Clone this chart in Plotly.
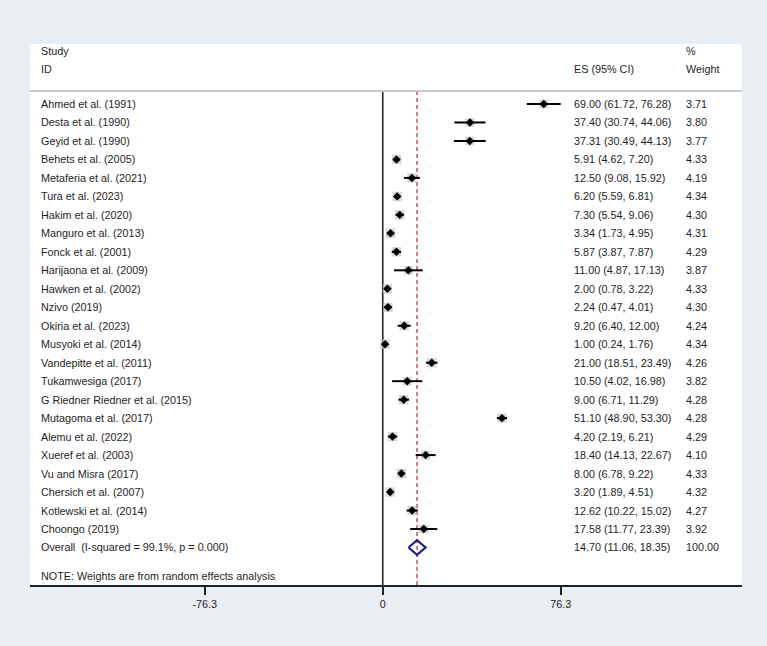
import plotly.graph_objects as go
import math

studies = ["Ahmed et al. (1991)", "Desta et al. (1990)", "Geyid et al. (1990)", "Behets et al. (2005)",
           "Metaferia et al. (2021)", "Tura et al. (2023)", "Hakim et al. (2020)", "Manguro et al. (2013)",
           "Fonck et al. (2001)", "Harijaona et al. (2009)", "Hawken et al. (2002)", "Nzivo (2019)",
           "Okiria et al. (2023)", "Musyoki et al. (2014)", "Vandepitte et al. (2011)", "Tukamwesiga (2017)",
           "G Riedner Riedner et al. (2015)", "Mutagoma et al. (2017)", "Alemu et al. (2022)",
           "Xueref et al. (2003)", "Vu and Misra (2017)", "Chersich et al. (2007)",
           "Kotlewski et al. (2014)", "Choongo (2019)"]
es = [69.00, 37.40, 37.31, 5.91, 12.50, 6.20, 7.30, 3.34, 5.87, 11.00, 2.00, 2.24, 9.20, 1.00,
      21.00, 10.50, 9.00, 51.10, 4.20, 18.40, 8.00, 3.20, 12.62, 17.58]
lo = [61.72, 30.74, 30.49, 4.62, 9.08, 5.59, 5.54, 1.73, 3.87, 4.87, 0.78, 0.47, 6.40, 0.24,
      18.51, 4.02, 6.71, 48.90, 2.19, 14.13, 6.78, 1.89, 10.22, 11.77]
hi = [76.28, 44.06, 44.13, 7.20, 15.92, 6.81, 9.06, 4.95, 7.87, 17.13, 3.22, 4.01, 12.00, 1.76,
      23.49, 16.98, 11.29, 53.30, 6.21, 22.67, 9.22, 4.51, 15.02, 23.39]
weights = [3.71, 3.80, 3.77, 4.33, 4.19, 4.34, 4.30, 4.31, 4.29, 3.87, 4.33, 4.30, 4.24, 4.34,
           4.26, 3.82, 4.28, 4.28, 4.29, 4.10, 4.33, 4.32, 4.27, 3.92]
overall_label = "Overall  (I-squared = 99.1%, p = 0.000)"
overall_es, overall_lo, overall_hi, overall_w = 14.70, 11.06, 18.35, 100.00
tick_vals = [-76.3, 0, 76.3]
tick_text = ["-76.3", "0", "76.3"]
note = "NOTE: Weights are from random effects analysis"

n = len(studies)
rows = list(range(n))
overall_row = n
note_row = n + 1.54
header_line = -0.70

FONT = "Liberation Sans, Arial, Helvetica, sans-serif"
FS = 10.8
TXT = "#1e1e1e"

fig = go.Figure()

# CI lines
cx, cy = [], []
for r, a, b in zip(rows, lo, hi):
    cx += [a, b, None]
    cy += [r, r, None]

# reference lines
fig.add_trace(go.Scatter(x=[0, 0], y=[header_line, 26.03], mode="lines",
                         line=dict(color="#222222", width=1.6), hoverinfo="skip", showlegend=False))
fig.add_trace(go.Scatter(x=[overall_es, overall_es], y=[header_line, 26.03], mode="lines",
                         line=dict(color="#b03a3a", width=1.3, dash="4px,3px"), hoverinfo="skip",
                         showlegend=False))

# weight boxes
fig.add_trace(go.Scatter(x=es, y=rows, mode="markers",
                         marker=dict(symbol="square", size=[4.5 * math.sqrt(w) for w in weights],
                                     color="#c4c4c4", line=dict(width=0)),
                         hoverinfo="skip", showlegend=False))
fig.add_trace(go.Scatter(x=cx, y=cy, mode="lines", line=dict(color="black", width=2),
                         hoverinfo="skip", showlegend=False))
fig.add_trace(go.Scatter(x=es, y=rows, mode="markers",
                         marker=dict(symbol="diamond", size=6.5, color="black", line=dict(width=0)),
                         hoverinfo="skip", showlegend=False))

# overall diamond
h = 0.40
fig.add_trace(go.Scatter(x=[overall_lo, overall_es, overall_hi, overall_es, overall_lo],
                         y=[overall_row, overall_row - h, overall_row, overall_row + h, overall_row],
                         mode="lines", line=dict(color="#1a237e", width=2.2), hoverinfo="skip",
                         showlegend=False))

X_STUDY = 0.0125
X_ES = 0.761
X_W = 0.919

def ann(x, y, t):
    fig.add_annotation(x=x, y=y, xref="paper", yref="y", text=t, showarrow=False,
                       xanchor="left", yanchor="middle", font=dict(family=FONT, size=FS, color=TXT))

ann(X_STUDY, -2.87, "Study")
ann(X_STUDY, -1.89, "ID")
ann(X_ES, -1.89, "ES (95% CI)")
ann(X_W, -2.87, "%")
ann(X_W, -1.89, "Weight")

for r, s, e, a, b, w in zip(rows, studies, es, lo, hi, weights):
    ann(X_STUDY, r, s)
    ann(X_ES, r, f"{e:.2f} ({a:.2f}, {b:.2f})")
    ann(X_W, r, f"{w:.2f}")

ann(X_STUDY, overall_row, overall_label)
ann(X_ES, overall_row, f"{overall_es:.2f} ({overall_lo:.2f}, {overall_hi:.2f})")
ann(X_W, overall_row, f"{overall_w:.2f}")
ann(X_STUDY, note_row, note)

fig.add_shape(type="line", xref="paper", yref="y", x0=0, x1=1, y0=header_line, y1=header_line,
              line=dict(color="#c9c9c9", width=2))

fig.update_layout(
    width=767, height=646,
    margin=dict(l=30, r=25, t=44, b=61),
    paper_bgcolor="#e8eef2",
    plot_bgcolor="white",
    showlegend=False,
    xaxis=dict(range=[-151.2, 154.0], showgrid=False, zeroline=False,
               tickvals=tick_vals, ticktext=tick_text, ticks="outside", ticklen=8,
               tickwidth=1.5, tickcolor="#222", showline=True, linecolor="#222", linewidth=1.6,
               tickfont=dict(family=FONT, size=FS, color=TXT), fixedrange=True),
    yaxis=dict(range=[26.03, -3.247], visible=False, fixedrange=True),
)

fig.write_html("out.html")
